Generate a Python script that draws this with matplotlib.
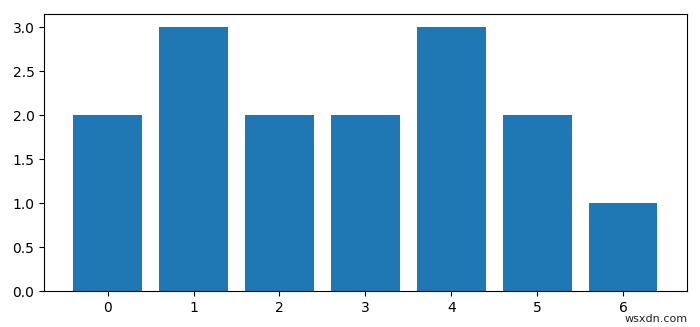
import matplotlib
matplotlib.use("Agg")
import matplotlib.pyplot as plt

categories = [0, 1, 2, 3, 4, 5, 6]
values = [2, 3, 2, 2, 3, 2, 1]

fig = plt.figure(figsize=(7.0, 3.27), dpi=100)
ax = fig.add_axes([0.063, 0.110, 0.918, 0.847])
ax.bar(categories, values, color="#1f77b4")
ax.set_xticks(categories)
fig.text(0.983, 0.025, "wsxdn.com", ha="right", va="center", fontsize=8, color="#222222")
fig.savefig("out.png", dpi=100)
